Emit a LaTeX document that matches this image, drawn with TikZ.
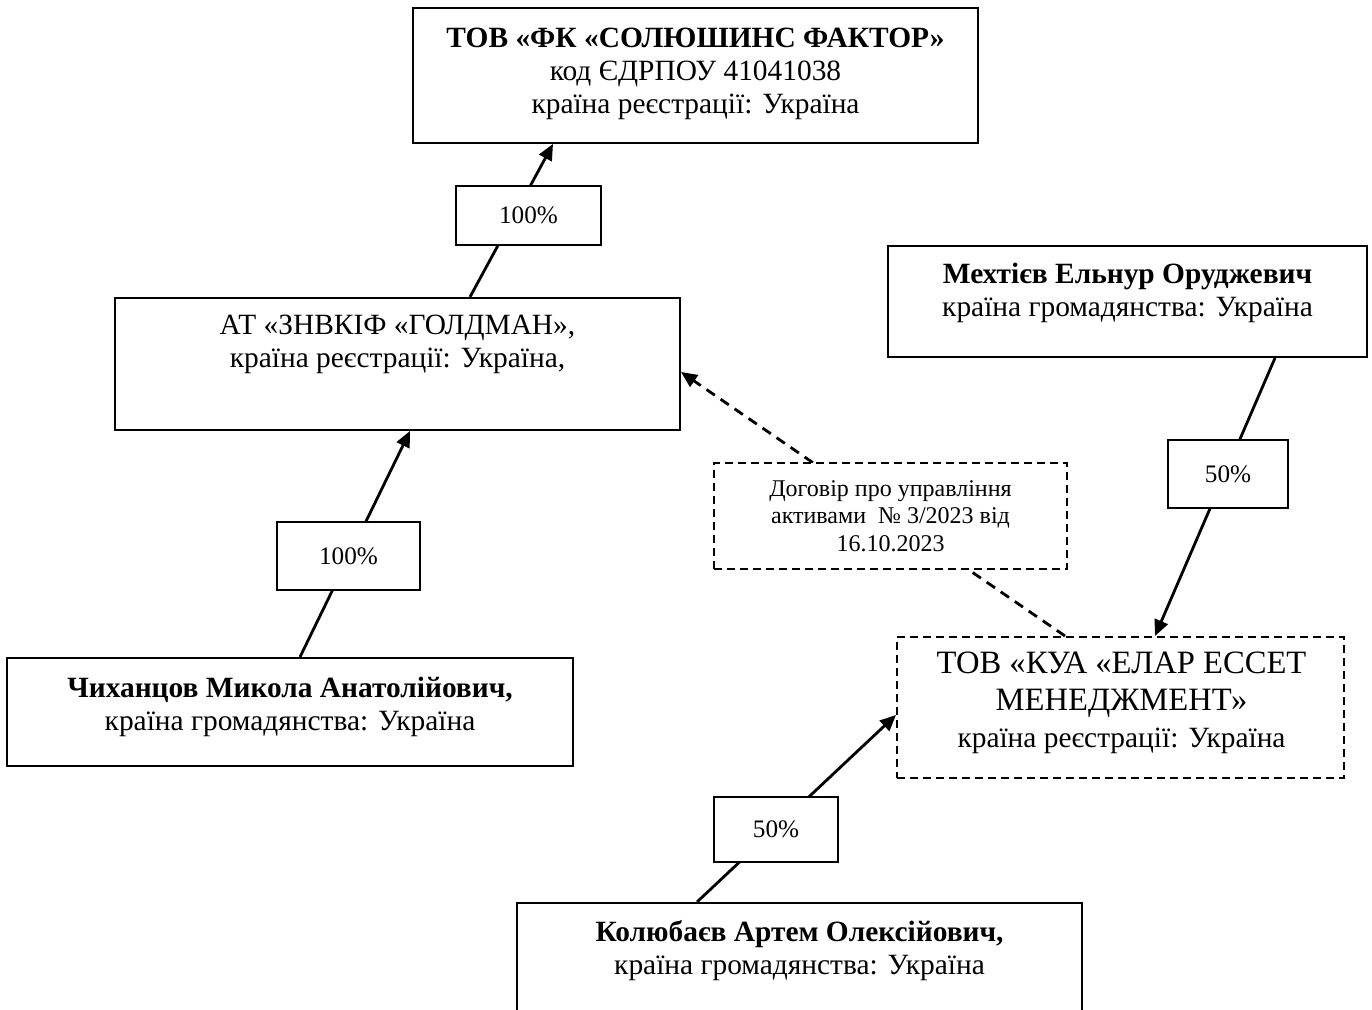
\documentclass[tikz,border=0pt]{standalone}
\usepackage{fontspec}
\setmainfont{Liberation Serif}
\usetikzlibrary{arrows.meta}

\tikzset{
  orgbox/.style={draw=black, line width=1pt, fill=white, inner sep=0pt},
  dashbox/.style={orgbox, dash pattern=on 4pt off 2.5pt},
  orgtext/.style={align=center, inner sep=0pt, font=\fontsize{14.7}{16.5}\selectfont},
  sharebox/.style={orgbox, font=\fontsize{12.6}{14}\selectfont},
  owns/.style={line width=1.4pt, -{Triangle[length=8pt,width=7pt]}},
  manages/.style={owns, dash pattern=on 5pt off 3.5pt},
}

\begin{document}
\begin{tikzpicture}[x=1pt,y=1pt]
\useasboundingbox (0,0) rectangle (686,505);
\clip (0,0) rectangle (686,505);
% Drawing boxes
% Box 1: fk
\node[orgbox, minimum width=282.5pt, minimum height=67.5pt] (fk) at (347.75,467.25) {};
\node[orgtext] (fk-text) at (347.75,468.25) {\textbf{ТОВ «ФК «СОЛЮШИНС ФАКТОР»}\\код ЄДРПОУ 41041038\\країна реєстрації: Україна};
% Box 2: at
\node[orgbox, minimum width=282.5pt, minimum height=66pt] (at) at (198.75,323) {};
\node[orgtext] (at-text) at (198.75,333) {АТ «ЗНВКІФ «ГОЛДМАН»,\\країна реєстрації: Україна,};
% Box 3: chy
\node[orgbox, minimum width=283pt, minimum height=54pt] (chy) at (145,149) {};
\node[orgtext] (chy-text) at (145,151.5) {\textbf{Чиханцов Микола Анатолійович,}\\країна громадянства: Україна};
% Box 4: mekh
\node[orgbox, minimum width=239.5pt, minimum height=55.5pt] (mekh) at (563.75,354.25) {};
\node[orgtext] (mekh-text) at (563.75,358.5) {\textbf{Мехтієв Ельнур Оруджевич}\\країна громадянства: Україна};
% Box 5: kua
\node[dashbox, minimum width=223.5pt, minimum height=70.5pt] (kua) at (560.25,151.25) {};
\node[orgtext, font=\fontsize{16.3}{18.5}\selectfont] (kua-text) at (560.75,153.5) {ТОВ «КУА «ЕЛАР ЕССЕТ\\МЕНЕДЖМЕНТ»\\\fontsize{14.7}{18.5}\selectfont країна реєстрації: Україна};
% Box 6: kol
\node[orgbox, minimum width=282.5pt, minimum height=68.5pt] (kol) at (399.75,19.25) {};
\node[orgtext] (kol-text) at (399.75,29.5) {\textbf{Колюбаєв Артем Олексійович,}\\країна громадянства: Україна};
% Done with boxes; drawing connectors
% at -> fk
\draw[owns] ([xshift=36.25pt]at.north) -- ([xshift=-71.25pt]fk.south);
% chy -> at
\draw[owns] ([xshift=5pt]chy.north) -- ([xshift=6.25pt]at.south);
% mekh -> kua
\draw[owns] ([xshift=73.75pt]mekh.south) -- ([xshift=17.25pt]kua.north);
% kol -> kua
\draw[owns] ([xshift=-51.25pt]kol.north) -- ([yshift=-3.75pt]kua.west);
% kua -> at, asset management
\draw[manages] ([xshift=-27.75pt]kua.north) -- ([yshift=-4pt]at.east);
% Done with connectors; drawing share labels
\node[sharebox, minimum width=72.5pt, minimum height=29.5pt] (share-fk) at (264.25,397.25) {100\%};
\node[sharebox, minimum width=71.5pt, minimum height=34pt] (share-at) at (174.25,227) {100\%};
\node[sharebox, minimum width=60pt, minimum height=34pt] (share-mekh) at (614,268) {50\%};
\node[sharebox, minimum width=62pt, minimum height=32.5pt] (share-kol) at (388,90.25) {50\%};
\node[dashbox, align=center, font=\fontsize{12}{13.8}\selectfont, minimum width=176.5pt, minimum height=53pt] (contract) at (445.25,247) {Договір про управління\\активами ~№ 3/2023 від\\16.10.2023};
% Done with share labels
\end{tikzpicture}
\end{document}
